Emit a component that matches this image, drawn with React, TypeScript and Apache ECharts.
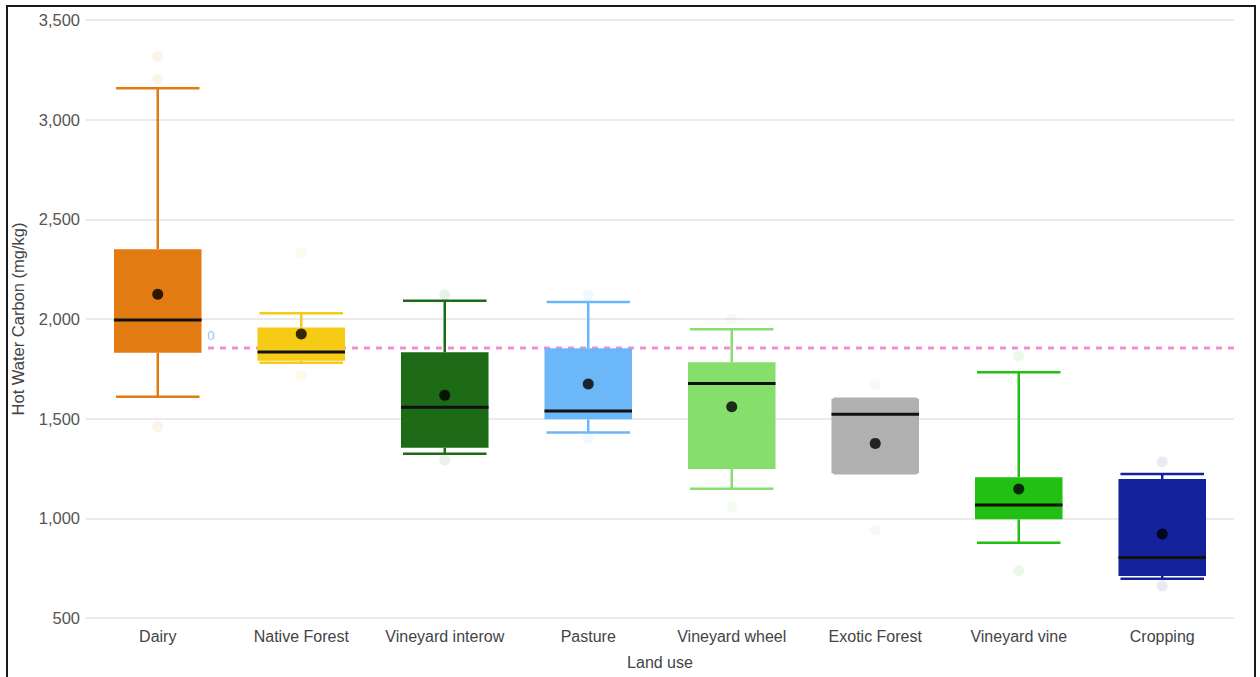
import React, { useEffect, useRef } from "react";
import * as echarts from "echarts";

const categories = ["Dairy", "Native Forest", "Vineyard interow", "Pasture", "Vineyard wheel", "Exotic Forest", "Vineyard vine", "Cropping"];
const lowWhisker = [1610, 1780, 1324, 1430, 1149, 1226, 878, 697];
const q1 = [1831, 1791, 1354, 1497, 1247, 1226, 995, 711];
const median = [1995, 1834, 1557, 1538, 1677, 1522, 1067, 803];
const q3 = [2350, 1957, 1833, 1853, 1783, 1600, 1206, 1197];
const highWhisker = [3157, 2029, 2092, 2085, 1948, 1600, 1733, 1222];
const means = [2124, 1925, 1617, 1674, 1560, 1376, 1147, 921];
const outliers = [
  [3316, 3204, 1460],
  [2331, 1719],
  [2120, 1293],
  [2120, 1403],
  [1998, 1058],
  [1672, 941],
  [1814, 737],
  [1284, 661],
];
const referenceValue = 1855;
const referenceLabel = "0";
const referenceSpan = [0.35, 7.52];
const yTicks = [500, 1000, 1500, 2000, 2500, 3000, 3500];

const colors = ["#e27b12", "#f6cb16", "#1d6a17", "#6cb7f8", "#86de6d", "#b0b0b0", "#21c013", "#13229a"];

function hexToRgba(hex: string, a: number) {
  const n = parseInt(hex.slice(1), 16);
  return `rgba(${(n >> 16) & 255},${(n >> 8) & 255},${n & 255},${a})`;
}

export default function App() {
  const ref = useRef<HTMLDivElement>(null);
  useEffect(() => {
    if (!ref.current) return;
    const chart = echarts.init(ref.current, null, { renderer: "svg" });
    const boxData = categories.map((_, i) => [i, lowWhisker[i], q1[i], median[i], q3[i], highWhisker[i]]);
    const outlierData: any[] = [];
    outliers.forEach((arr, i) =>
      arr.forEach((v) => outlierData.push({ value: [i, v], itemStyle: { color: hexToRgba(colors[i], 0.12) } }))
    );
    const font = "'Liberation Sans', Arial, Helvetica, sans-serif";
    chart.setOption({
      animation: false,
      textStyle: { fontFamily: font },
      grid: { left: 86, right: 26, top: 20, bottom: 59, containLabel: false },
      xAxis: [
        {
          type: "category",
          data: categories,
          name: "Land use",
          nameLocation: "middle",
          nameGap: 36,
          nameTextStyle: { fontSize: 16, color: "#444", fontFamily: font },
          axisLine: { show: false },
          axisTick: { show: false },
          axisLabel: { interval: 0, fontSize: 16, color: "#444", margin: 10, fontFamily: font },
          splitLine: { show: false },
        },
        { type: "value", show: false, min: -0.5, max: 7.5 },
      ],
      yAxis: {
        type: "value",
        min: yTicks[0],
        max: yTicks[yTicks.length - 1],
        interval: 500,
        name: "Hot Water Carbon (mg/kg)",
        nameLocation: "middle",
        nameGap: 60,
        nameTextStyle: { fontSize: 16.5, color: "#444", fontFamily: font },
        axisLine: { show: false },
        axisTick: { show: false },
        axisLabel: {
          fontSize: 16.5,
          color: "#555",
          margin: 6,
          fontFamily: font,
          formatter: (v: number) => v.toLocaleString("en-US"),
        },
        splitLine: { lineStyle: { color: "#e3e3e3", width: 1.5 } },
      },
      series: [
        {
          type: "line",
          xAxisIndex: 1,
          z: 1,
          symbol: "circle",
          symbolSize: 1,
          showSymbol: true,
          silent: true,
          itemStyle: { color: "rgba(0,0,0,0)" },
          lineStyle: { color: "#ef8fd3", width: 3, type: [6, 6] },
          data: [
            {
              value: [referenceSpan[0], referenceValue],
              label: {
                show: true,
                formatter: referenceLabel,
                position: "top",
                offset: [3, 0],
                fontSize: 13,
                color: "#8ec5f2",
              },
            },
            { value: [referenceSpan[1], referenceValue] },
          ],
        },
        {
          type: "custom",
          z: 2,
          data: boxData,
          encode: { x: 0, y: [1, 2, 3, 4, 5] },
          renderItem: (params: any, api: any) => {
            const idx = api.value(0);
            const c = colors[idx];
            const pLow = api.coord([idx, api.value(1)]);
            const pQ1 = api.coord([idx, api.value(2)]);
            const pMed = api.coord([idx, api.value(3)]);
            const pQ3 = api.coord([idx, api.value(4)]);
            const pHigh = api.coord([idx, api.value(5)]);
            const bw = api.size([1, 0])[0] * 0.61;
            const x = pMed[0];
            const half = bw / 2;
            const lineStyle = { stroke: c, lineWidth: 2.5 };
            return {
              type: "group",
              children: [
                { type: "line", shape: { x1: x, y1: pHigh[1], x2: x, y2: pQ3[1] }, style: lineStyle },
                { type: "line", shape: { x1: x, y1: pQ1[1], x2: x, y2: pLow[1] }, style: lineStyle },
                { type: "line", shape: { x1: x - half + 2, y1: pHigh[1], x2: x + half - 2, y2: pHigh[1] }, style: lineStyle },
                { type: "line", shape: { x1: x - half + 2, y1: pLow[1], x2: x + half - 2, y2: pLow[1] }, style: lineStyle },
                {
                  type: "rect",
                  shape: { x: x - half, y: pQ3[1], width: bw, height: pQ1[1] - pQ3[1] },
                  style: { fill: c },
                },
                {
                  type: "line",
                  shape: { x1: x - half, y1: pMed[1], x2: x + half, y2: pMed[1] },
                  style: { stroke: "#111", lineWidth: 3 },
                },
              ],
            };
          },
        },
        {
          type: "scatter",
          z: 3,
          symbolSize: 11,
          data: outlierData,
        },
        {
          type: "scatter",
          z: 4,
          symbolSize: 11,
          itemStyle: { color: "#000" },
          data: means.map((m, i) => [i, m]),
        },
      ],
    });
    return () => chart.dispose();
  }, []);
  return (
    <div style={{ position: "fixed", left: 0, top: 0, width: 1260, height: 677, background: "#fff", overflow: "hidden" }}>
      <div ref={ref} style={{ position: "absolute", left: 0, top: 0, width: 1260, height: 677 }} />
      <div
        style={{
          position: "absolute",
          left: 6,
          top: 5,
          width: 1246,
          height: 700,
          border: "2px solid #1a1a1a",
          pointerEvents: "none",
        }}
      />
    </div>
  );
}
